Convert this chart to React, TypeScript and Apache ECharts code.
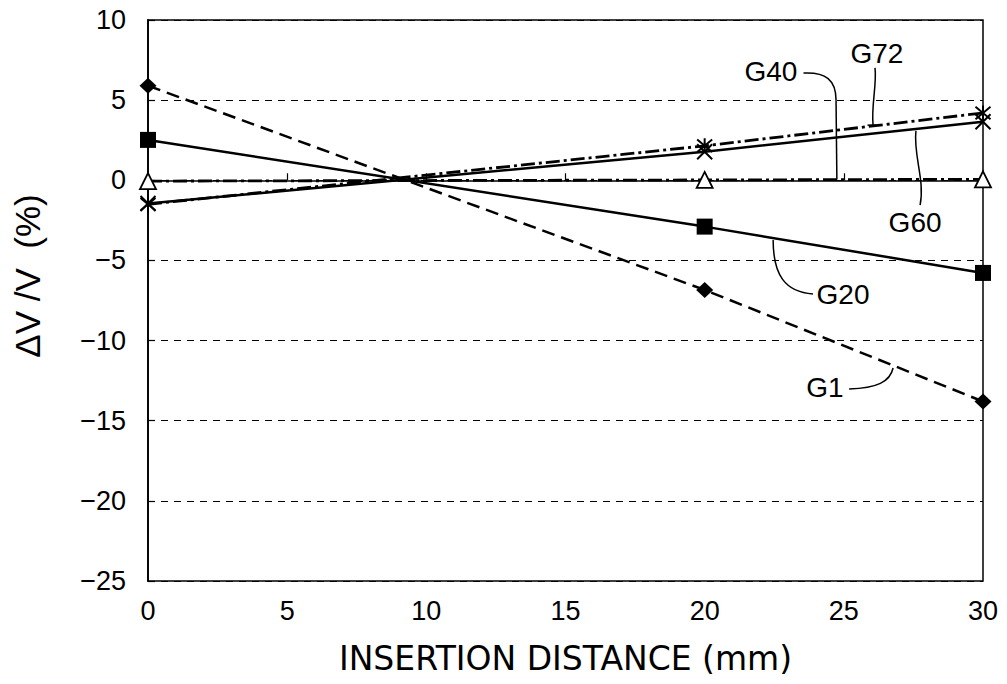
import React, { useEffect, useRef } from "react";
import * as echarts from "echarts";

const xValues = [0, 20, 30];
const g1 = [5.9, -6.84, -13.8];
const g20 = [2.52, -2.89, -5.78];
const g40 = [-0.05, 0.02, 0.06];
const g60 = [-1.45, 1.78, 3.65];
const g72 = [-1.5, 2.15, 4.2];

const xTicks = [0, 5, 10, 15, 20, 25, 30];
const yTicks = [-25, -20, -15, -10, -5, 0, 5, 10];

const seriesNames = ["G1", "G20", "G40", "G60", "G72"];

// annotation labels and leader curves, in data coordinates
const labelPos: Record<string, [number, number]> = {
  G40: [22.38, 6.76],
  G72: [26.19, 7.88],
  G60: [27.56, -2.64],
  G20: [24.97, -7.1],
  G1: [24.32, -12.9],
};
const leaderCurves: Record<string, [number, number][]> = {
  G40: [[23.55, 6.69], [24.35, 6.76], [24.72, 6.26], [24.72, 5.0]],
  G72: [[26.12, 7.01], [26.19, 5.94], [25.98, 4.7], [26.05, 3.44]],
  G60: [[27.74, -1.55], [27.92, 0.02], [27.49, 1.58], [27.59, 3.08]],
  G20: [[23.89, -7.09], [22.89, -6.97], [22.46, -5.91], [22.46, -3.72]],
  G1: [[25.19, -13.02], [26.19, -12.96], [26.66, -12.58], [26.77, -11.71]],
};
const leaderLines: [number, number][][] = [
  [[24.72, 5.0], [24.75, 0.05]],
  [[25.85, 3.44], [26.25, 3.44]],
];

const FONT = "Liberation Sans";

const xPath = "path://M0,0L10,10M10,0L0,10";
const starPath = "path://M0,0L10,10M10,0L0,10M5,-1L5,11";

function pairs(vals: number[]) {
  return xValues.map((x, i) => [x, vals[i]]);
}

export default function App() {
  const ref = useRef<HTMLDivElement>(null);
  useEffect(() => {
    if (!ref.current) return;
    const chart = echarts.init(ref.current, null, { renderer: "svg" });
    const dashDot = [14, 4, 3, 4];
    const option: any = {
      animation: false,
      backgroundColor: "#fff",
      grid: {
        left: 148,
        right: 24,
        top: 20,
        bottom: 103,
        show: true,
        borderColor: "#000",
        borderWidth: 1.5,
      },
      xAxis: {
        type: "value",
        min: 0,
        max: 30,
        interval: 5,
        name: "INSERTION DISTANCE (mm)",
        nameLocation: "middle",
        nameGap: 61,
        nameTextStyle: { fontFamily: "DejaVu Sans", fontSize: 33, color: "#000" },
        axisLine: { show: true, lineStyle: { color: "#000", width: 1.5 } },
        axisTick: { show: true, inside: true, length: 7, lineStyle: { color: "#000", width: 1.2 } },
        axisLabel: { fontFamily: FONT, fontSize: 27, color: "#000", margin: 16 },
        splitLine: { show: false },
      },
      yAxis: {
        type: "value",
        min: -25,
        max: 10,
        interval: 5,
        axisLine: { show: true, lineStyle: { color: "#000", width: 1.8 } },
        axisTick: { show: true, inside: true, length: 7, lineStyle: { color: "#000", width: 1.2 } },
        axisLabel: {
          fontFamily: FONT,
          fontSize: 27,
          color: "#000",
          margin: 22,
          formatter: (v: number) => (v < 0 ? "\u2212" + Math.abs(v) : String(v)),
        },
        splitLine: { show: true, lineStyle: { color: "#000", width: 1, type: [7, 6] } },
      },
      series: [
        {
          name: "G1",
          type: "line",
          data: pairs(g1),
          symbol: "diamond",
          symbolSize: [17, 16],
          itemStyle: { color: "#000" },
          lineStyle: { color: "#000", width: 2.5, type: [13, 7] },
          z: 3,
        },
        {
          name: "G20",
          type: "line",
          data: pairs(g20),
          symbol: "rect",
          symbolSize: 16,
          itemStyle: { color: "#000" },
          lineStyle: { color: "#000", width: 2.5 },
          z: 3,
        },
        {
          name: "G40",
          type: "line",
          data: pairs(g40),
          symbol: "triangle",
          symbolSize: [16, 16],
          itemStyle: { color: "#fff", borderColor: "#000", borderWidth: 1.8 },
          lineStyle: { color: "#000", width: 2.8, type: dashDot },
          z: 4,
        },
        {
          name: "G60",
          type: "line",
          data: pairs(g60),
          symbol: xPath,
          symbolSize: 15,
          itemStyle: { color: "none", borderColor: "#000", borderWidth: 2 },
          lineStyle: { color: "#000", width: 2.5 },
          z: 3,
        },
        {
          name: "G72",
          type: "line",
          data: pairs(g72),
          symbol: starPath,
          symbolSize: 15,
          itemStyle: { color: "none", borderColor: "#000", borderWidth: 2 },
          lineStyle: { color: "#000", width: 2.8, type: dashDot },
          z: 3,
        },
      ],
    };
    chart.setOption(option);

    const px = (p: [number, number]) =>
      chart.convertToPixel({ xAxisIndex: 0, yAxisIndex: 0 }, p) as number[];

    const graphics: any[] = [];
    seriesNames.forEach((name) => {
      const pos = px(labelPos[name]);
      graphics.push({
        type: "text",
        x: pos[0],
        y: pos[1],
        style: {
          text: name,
          fontFamily: FONT,
          fontSize: 28,
          fill: "#000",
          align: "center",
          verticalAlign: "middle",
        },
        z: 10,
      });
      const c = leaderCurves[name].map(px);
      graphics.push({
        type: "bezierCurve",
        shape: {
          x1: c[0][0], y1: c[0][1],
          cpx1: c[1][0], cpy1: c[1][1],
          cpx2: c[2][0], cpy2: c[2][1],
          x2: c[3][0], y2: c[3][1],
        },
        style: { stroke: "#000", lineWidth: 1.5, fill: "none" },
        z: 10,
      });
    });
    leaderLines.forEach((l) => {
      const a = px(l[0]);
      const b = px(l[1]);
      graphics.push({
        type: "line",
        shape: { x1: a[0], y1: a[1], x2: b[0], y2: b[1] },
        style: { stroke: "#000", lineWidth: 1.5 },
        z: 10,
      });
    });
    graphics.push({
      type: "text",
      x: 27,
      y: 276,
      rotation: Math.PI / 2,
      style: {
        text: "\u0394V /V  (%)",
        fontFamily: FONT,
        fontSize: 35,
        fill: "#000",
        align: "center",
        verticalAlign: "middle",
      },
      z: 10,
    });
    chart.setOption({ graphic: graphics });

    return () => chart.dispose();
  }, []);
  return (
    <div
      ref={ref}
      style={{ position: "fixed", left: 0, top: 0, width: 1007, height: 684, background: "#fff" }}
    />
  );
}
